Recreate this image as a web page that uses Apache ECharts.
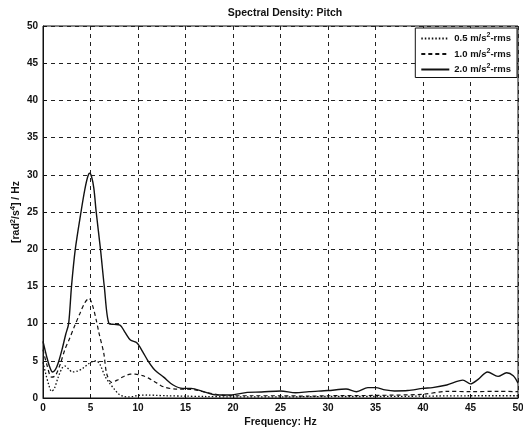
<!DOCTYPE html>
<html>
<head>
<meta charset="utf-8">
<script src="https://cdn.jsdelivr.net/npm/echarts@6/dist/echarts.min.js"></script>
<style>html,body{margin:0;padding:0;background:#fff}#c{width:523px;height:430px}</style>
</head>
<body>
<div id="c"></div>
<script>
var xTicks = [0,5,10,15,20,25,30,35,40,45,50];
var yTicks = [0,5,10,15,20,25,30,35,40,45,50];
var seriesNames = ['0.5 m/s²-rms', '1.0 m/s²-rms', '2.0 m/s²-rms'];

var freqLow = [0,0.3,0.6,0.9,1.2,1.6,2.0,2.3,2.7,3.1,3.6,4.2,4.8,5.2,5.6,6.0,6.5,7.0,7.5,8.0,8.5,9.0,9.5,10,11,12,13,15,17,20,25,30,35,40,45,50];
var psdLow  = [4.8,3.2,1.8,0.9,1.3,2.8,4.0,4.3,3.9,3.5,3.6,4.0,4.6,4.9,5.0,4.5,3.0,2.0,1.2,0.5,0.2,0.15,0.2,0.35,0.4,0.35,0.3,0.25,0.2,0.15,0.15,0.2,0.2,0.25,0.3,0.3];

var freqMid = [0,0.4,0.9,1.3,1.8,2.3,2.8,3.3,3.9,4.4,4.85,5.2,5.6,5.9,6.4,6.7,7.2,7.8,8.5,9.2,9.7,10.5,11.2,12,12.7,14,15,16,17,18,19,20,22,25,28,30,35,40,42.5,45,48,50];
var psdMid  = [6.5,4.5,2.8,3.0,4.5,6.5,8.0,9.6,11.4,12.8,13.4,12.5,10.5,8.7,6.0,3.3,2.1,2.4,2.9,3.2,3.2,3.0,2.6,2.0,1.5,1.2,1.2,1.1,0.8,0.55,0.35,0.3,0.3,0.3,0.25,0.3,0.35,0.5,0.9,0.85,0.9,0.85];

var freqHigh = [0,0.4,0.7,1.0,1.3,1.6,2.0,2.4,2.7,3.0,3.4,4.0,4.4,4.7,4.9,5.1,5.35,5.6,6.05,6.45,6.95,7.5,8.1,8.6,9.2,9.9,10.5,11.0,11.6,12.0,12.7,13.7,14.7,15.6,16.9,18.3,19.7,21.5,23,25,26.6,28,30,31.9,33,34.2,35,36,37,38.4,40,41,42.5,44.2,45,45.8,46.8,47.9,48.8,49.5,50];
var psdHigh  = [7.6,5.5,4.2,3.5,3.8,4.7,6.5,8.6,10.0,15.0,20.0,25.0,28.0,29.7,30.2,29.8,28.2,25.0,20.0,15.0,10.0,9.9,9.8,8.9,7.8,7.4,6.2,5.1,4.0,3.5,2.8,1.75,1.3,1.3,0.85,0.4,0.4,0.75,0.8,0.95,0.7,0.85,1.0,1.2,0.85,1.4,1.4,1.1,0.95,1.0,1.3,1.4,1.75,2.4,1.9,2.5,3.5,2.9,3.4,3.0,2.0];

function pairs(f, v) { return f.map(function (x, i) { return [x, v[i]]; }); }

var FONT = '"Liberation Sans", Arial, sans-serif';
var chart = echarts.init(document.getElementById('c'), null, {renderer: 'canvas'});

var gridLine = {show: true, lineStyle: {color: '#222', width: 1, type: [4, 4]}};

chart.setOption({
  backgroundColor: '#fff',
  animation: false,
  title: {
    text: 'Spectral Density: Pitch',
    left: 280, top: 3, textAlign: 'center',
    textStyle: {fontFamily: FONT, fontSize: 10.5, fontWeight: 'bold', color: '#111'}
  },
  grid: {left: 43, right: 5, top: 26, bottom: 32, show: true, borderColor: '#111', borderWidth: 1,
    containLabel: false, outerBoundsMode: 'none'},
  legend: {
    orient: 'vertical', right: 6, top: 28,
    backgroundColor: '#fff', borderColor: '#111', borderWidth: 1,
    padding: [4, 6, 3, 5], itemGap: 4, itemWidth: 28, itemHeight: 9,
    itemStyle: {opacity: 0},
    data: seriesNames,
    formatter: function (n) { return n.replace('²', '{s|2}'); },
    textStyle: {fontFamily: FONT, fontSize: 9.5, fontWeight: 'bold', color: '#111',
      rich: {s: {fontFamily: FONT, fontSize: 7, fontWeight: 'bold', color: '#111', padding: [0, 0, 6, 0]}}}
  },
  xAxis: {
    type: 'value', min: 0, max: 50, interval: 5,
    name: 'Frequency: Hz', nameLocation: 'middle', nameGap: 19, nameMoveOverlap: false,
    nameTextStyle: {fontFamily: FONT, fontSize: 10.5, fontWeight: 'bold', color: '#111'},
    axisLine: {show: true, lineStyle: {color: '#111'}},
    axisTick: {show: true, inside: true, length: 4, lineStyle: {color: '#111'}},
    axisLabel: {fontFamily: FONT, fontSize: 10, fontWeight: 'bold', color: '#111', margin: 5,
      formatter: function (v) { return xTicks.indexOf(v) >= 0 ? String(v) : ''; }},
    splitLine: gridLine
  },
  yAxis: {
    type: 'value', min: 0, max: 50, interval: 5,
    name: '[rad{s|2}/s{s|4}] / Hz', nameLocation: 'middle', nameGap: 20, nameMoveOverlap: false,
    nameTextStyle: {fontFamily: FONT, fontSize: 10.5, fontWeight: 'bold', color: '#111',
      rich: {s: {fontFamily: FONT, fontSize: 7.5, fontWeight: 'bold', color: '#111', padding: [0, 0, 6, 0]}}},
    axisLine: {show: true, lineStyle: {color: '#111'}},
    axisTick: {show: true, inside: true, length: 4, lineStyle: {color: '#111'}},
    axisLabel: {fontFamily: FONT, fontSize: 10, fontWeight: 'bold', color: '#111', margin: 5,
      formatter: function (v) { return yTicks.indexOf(v) >= 0 ? String(v) : ''; }},
    splitLine: gridLine
  },
  series: [
    {name: seriesNames[0], type: 'line', data: pairs(freqLow, psdLow), symbol: 'none', smooth: 0.3,
      lineStyle: {color: '#111', width: 1.3, type: [1.5, 2]}, itemStyle: {color: '#111'}},
    {name: seriesNames[1], type: 'line', data: pairs(freqMid, psdMid), symbol: 'none', smooth: 0.3,
      lineStyle: {color: '#111', width: 1.2, type: [4, 3]}, itemStyle: {color: '#111'}},
    {name: seriesNames[2], type: 'line', data: pairs(freqHigh, psdHigh), symbol: 'none', smooth: 0.3,
      lineStyle: {color: '#111', width: 1.4, type: 'solid'}, itemStyle: {color: '#111'}}
  ]
});
</script>
</body>
</html>
